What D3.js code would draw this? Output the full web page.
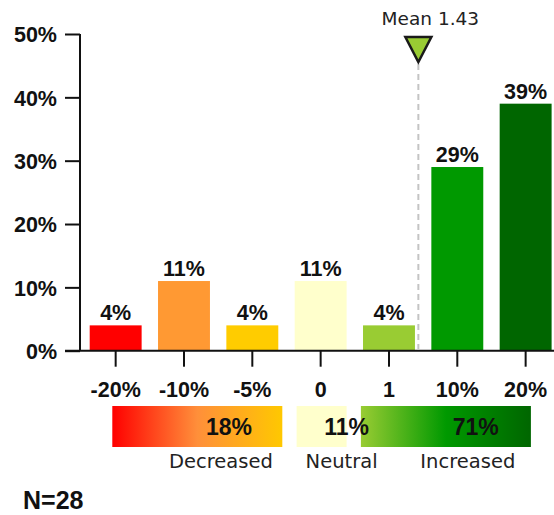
<!DOCTYPE html>
<html>
<head>
<meta charset="utf-8">
<script src="https://cdn.jsdelivr.net/npm/d3@7"></script>
<style>
  html, body { margin: 0; padding: 0; background: #fff; }
  svg { display: block; }
  .bold { font-family: "Liberation Sans", Arial, sans-serif; font-weight: bold; fill: #111; }
  .reg { font-family: "DejaVu Sans", Verdana, sans-serif; fill: #222; }
</style>
</head>
<body>
<svg id="chart" width="554" height="515"></svg>
<script>
// ---- data ----
const categories = ["-20%", "-10%", "-5%", "0", "1", "10%", "20%"];
const values = [4, 11, 4, 11, 4, 29, 39];
const barColors = ["#ff0000", "#ff9933", "#ffcc00", "#ffffcc", "#99cc33", "#009900", "#006600"];
const yTicks = [0, 10, 20, 30, 40, 50];
const meanValue = 1.43;           // on the -3..3 category index scale
const meanIndexDomain = [-3, 3];
const summaryLabels = ["Decreased", "Neutral", "Increased"];
const summaryValues = [18, 11, 71];
const nLabel = "N=28";

// ---- layout ----
const W = 554, H = 515;
const svg = d3.select("#chart");
const x = d3.scaleBand().domain(categories).range([81.5, 559.8]).paddingInner(0.24).paddingOuter(0.12);
const y = d3.scaleLinear().domain([0, 50]).range([350.7, 34]);
const xMean = d3.scaleLinear().domain(meanIndexDomain)
  .range([x(categories[0]) + x.bandwidth() / 2, x(categories[categories.length - 1]) + x.bandwidth() / 2]);

// bars
svg.append("g").selectAll("rect").data(values).join("rect")
  .attr("x", (d, i) => x(categories[i]))
  .attr("y", d => y(d))
  .attr("width", x.bandwidth())
  .attr("height", d => y(0) - y(d))
  .attr("fill", (d, i) => barColors[i]);

// value labels
svg.append("g").selectAll("text").data(values).join("text")
  .attr("class", "bold")
  .attr("x", (d, i) => x(categories[i]) + x.bandwidth() / 2)
  .attr("y", d => y(d) - 5)
  .attr("text-anchor", "middle")
  .attr("font-size", 21.5)
  .text(d => d + "%");

// y axis
const yAxis = svg.append("g").attr("transform", "translate(80,0)")
  .call(d3.axisLeft(y).tickValues(yTicks).tickFormat(d => d + "%").tickSize(15).tickPadding(8));
yAxis.select(".domain").attr("d", `M0,${y(50)}V${y(0)}`).attr("stroke", "#111").attr("stroke-width", 2);
yAxis.selectAll(".tick line").attr("stroke", "#111").attr("stroke-width", 2);
yAxis.selectAll(".tick text").attr("font-size", 21.5).attr("dy", "0.36em")
  .style("font-family", "'Liberation Sans', Arial, sans-serif").style("font-weight", "bold").attr("fill", "#111");

// x axis
const xAxis = svg.append("g").attr("transform", `translate(0,${y(0)})`)
  .call(d3.axisBottom(x).tickSize(16).tickPadding(10));
xAxis.select(".domain").attr("d", `M65,0H${W}`).attr("stroke", "#111").attr("stroke-width", 2);
xAxis.selectAll(".tick line").attr("stroke", "#111").attr("stroke-width", 2);
xAxis.selectAll(".tick text").attr("font-size", 21.5).attr("dy", "0.95em")
  .style("font-family", "'Liberation Sans', Arial, sans-serif").style("font-weight", "bold").attr("fill", "#111");

// mean marker
const mx = xMean(meanValue);
svg.append("line")
  .attr("x1", mx).attr("x2", mx).attr("y1", 64).attr("y2", y(0) - 1)
  .attr("stroke", "#c4c4c4").attr("stroke-width", 2).attr("stroke-dasharray", "6,4");
svg.append("path")
  .attr("d", `M${mx - 13},37L${mx + 13},37L${mx},62Z`)
  .attr("fill", "#99cc33").attr("stroke", "#1a1a1a").attr("stroke-width", 2.5).attr("stroke-linejoin", "miter");
svg.append("text").attr("class", "reg")
  .attr("x", mx + 12).attr("y", 25).attr("text-anchor", "middle").attr("font-size", 18.5)
  .text("Mean " + meanValue.toFixed(2));

// summary bar
const defs = svg.append("defs");
const gDec = defs.append("linearGradient").attr("id", "gDec");
gDec.append("stop").attr("offset", "0%").attr("stop-color", "#ff0000");
gDec.append("stop").attr("offset", "50%").attr("stop-color", "#ff8f3a");
gDec.append("stop").attr("offset", "100%").attr("stop-color", "#ffc800");
const gInc = defs.append("linearGradient").attr("id", "gInc");
gInc.append("stop").attr("offset", "0%").attr("stop-color", "#99cc33");
gInc.append("stop").attr("offset", "50%").attr("stop-color", "#009900");
gInc.append("stop").attr("offset", "100%").attr("stop-color", "#006600");
const summaryFills = ["url(#gDec)", "#ffffcc", "url(#gInc)"];
const summaryWidths = [170, 50, 170];
const summaryGap = 14.3;
const sumLeft = 112.3, sumTop = 406, sumH = 41;
const sumX = summaryWidths.map((w, i) => sumLeft + d3.sum(summaryWidths.slice(0, i)) + i * summaryGap);
const textFrac = [0.686, 1.0, 0.676];
const labelShift = [-8, -5, -8];

svg.append("g").selectAll("rect").data(summaryValues).join("rect")
  .attr("x", (d, i) => sumX[i]).attr("y", sumTop)
  .attr("width", (d, i) => summaryWidths[i]).attr("height", sumH)
  .attr("fill", (d, i) => summaryFills[i]);

svg.append("g").selectAll("text").data(summaryValues).join("text")
  .attr("class", "bold")
  .attr("x", (d, i) => sumX[i] + summaryWidths[i] * textFrac[i])
  .attr("y", sumTop + sumH / 2 + 8)
  .attr("text-anchor", "middle").attr("font-size", 23)
  .text(d => d + "%");

svg.append("g").selectAll("text").data(summaryLabels).join("text")
  .attr("class", "reg")
  .attr("x", (d, i) => sumX[i] + summaryWidths[i] * textFrac[i] + labelShift[i])
  .attr("y", 468)
  .attr("text-anchor", "middle").attr("font-size", 19.5)
  .text(d => d);

svg.append("text").attr("class", "bold")
  .attr("x", 23).attr("y", 509).attr("font-size", 25)
  .text(nLabel);
</script>
</body>
</html>
